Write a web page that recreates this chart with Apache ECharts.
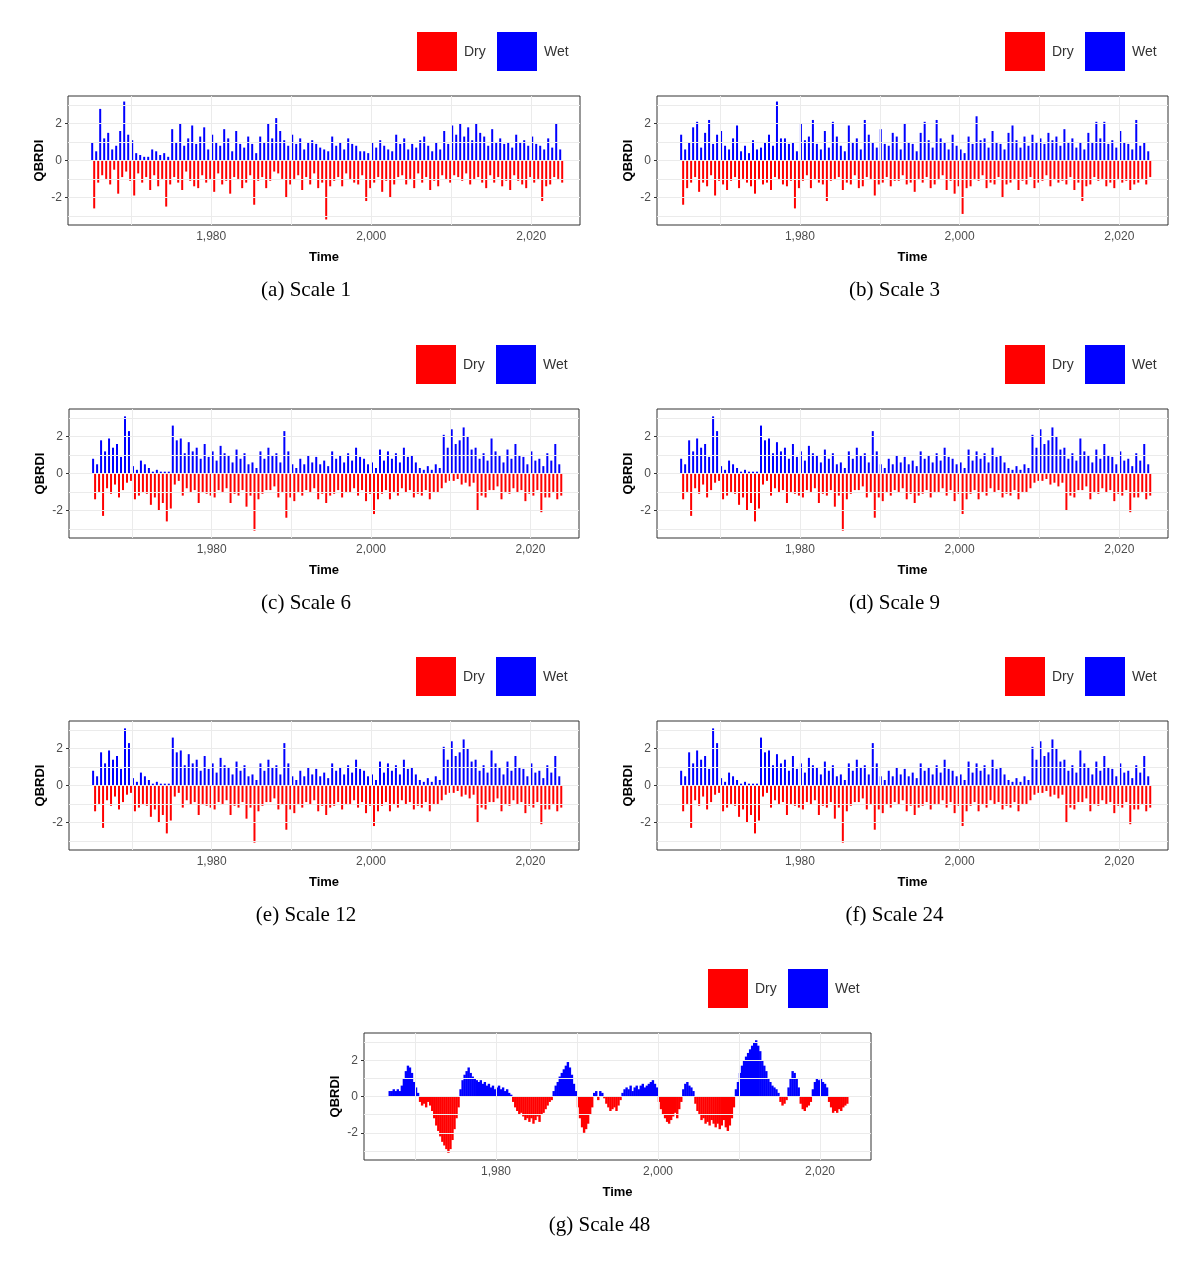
<!DOCTYPE html>
<html lang="en">
<head>
<meta charset="UTF-8">
<title>QBRDI scales</title>
<script src="https://cdn.jsdelivr.net/npm/echarts@6/dist/echarts.min.js"></script>
<style>
  body { margin: 0; background: #fff; }
  #chart { width: 1200px; height: 1268px; }
</style>
</head>
<body>
<div id="chart"></div>
<script>
    // QBRDI by quarter of each year, 1965..2023 (Q1..Q4)
    const scale1 = [
        [1.0,-2.6,0.5,-1.2],[2.8,-0.8,1.2,-1.0],[1.5,-1.3,0.6,-0.5],[0.8,-1.8,1.6,-0.9],[3.2,-0.6,1.4,-1.1],
        [1.1,-1.9,0.4,-0.7],[0.3,-1.2,0.2,-0.9],[0.2,-1.6,0.6,-0.8],[0.5,-1.4,0.3,-1.0],[0.4,-2.5,0.2,-1.3],
        [1.7,-0.9,1.0,-1.2],[2.0,-1.6,0.8,-0.6],[1.2,-1.1,1.9,-1.4],[0.9,-1.5,1.3,-0.8],[1.8,-1.2,0.6,-1.0],
        [1.4,-1.7,1.0,-0.7],[0.8,-1.3,1.7,-1.1],[1.2,-1.8,0.5,-0.9],[1.6,-1.0,0.9,-1.5],[0.7,-1.2,1.3,-0.8],
        [0.9,-2.4,0.4,-1.1],[1.3,-0.9,1.0,-1.5],[2.0,-1.1,1.2,-0.6],[2.3,-0.7,1.6,-1.0],[1.1,-2.0,0.8,-1.3],
        [1.4,-1.0,0.9,-0.8],[1.2,-1.6,0.6,-0.9],[1.0,-1.3,1.1,-0.7],[0.9,-1.5,0.7,-1.2],[0.6,-3.2,0.5,-1.4],
        [1.3,-1.1,0.8,-0.9],[1.0,-1.4,0.6,-0.7],[1.2,-1.0,0.9,-1.2],[0.8,-1.3,0.5,-0.8],[0.5,-2.2,0.4,-1.5],
        [1.0,-1.2,0.7,-0.9],[1.1,-1.7,0.8,-1.1],[0.6,-2.0,0.5,-1.3],[1.4,-0.9,0.9,-0.8],[1.2,-1.3,0.6,-1.0],
        [0.9,-1.5,0.7,-0.7],[1.1,-1.2,1.3,-0.9],[0.8,-1.6,0.5,-1.1],[1.0,-1.4,0.6,-0.8],[1.6,-1.0,0.9,-1.2],
        [1.9,-0.8,1.4,-0.9],[2.0,-1.1,1.3,-0.7],[1.8,-1.3,1.1,-1.0],[2.0,-0.9,1.5,-1.2],[1.3,-1.5,0.8,-0.8],
        [1.7,-1.2,1.0,-0.9],[1.2,-1.4,0.9,-1.1],[1.0,-1.6,0.7,-0.8],[1.4,-1.1,1.0,-1.3],[1.1,-1.5,0.8,-0.9],
        [1.3,-1.2,0.9,-1.0],[0.8,-2.2,0.6,-1.4],[1.2,-1.3,0.7,-0.9],[2.0,-1.0,0.6,-1.2]
    ];
    const scale3 = [
        [1.4,-2.4,0.6,-1.5],[1.0,-1.2,1.8,-0.9],[2.1,-1.7,0.7,-1.2],[1.5,-1.4,2.2,-0.8],[0.9,-1.9,1.4,-1.1],
        [1.6,-1.3,0.8,-1.6],[0.6,-1.1,1.2,-0.9],[1.9,-1.5,0.5,-1.0],[0.8,-1.2,0.4,-1.4],[1.1,-1.8,0.6,-1.0],
        [0.7,-1.3,1.0,-1.2],[1.4,-1.6,0.8,-0.9],[3.2,-1.0,1.2,-1.3],[1.2,-1.4,0.9,-1.1],[1.0,-2.6,0.5,-1.5],
        [2.0,-1.1,1.1,-0.8],[1.3,-1.5,2.2,-1.0],[0.9,-1.2,0.6,-1.3],[1.6,-2.2,0.7,-1.1],[2.1,-1.0,1.3,-0.9],
        [0.8,-1.6,0.5,-1.2],[1.9,-1.3,1.0,-0.8],[1.2,-1.5,0.6,-1.4],[2.2,-0.9,1.4,-1.0],[1.0,-1.9,0.7,-1.3],
        [1.7,-1.2,0.9,-0.9],[0.8,-1.4,1.5,-1.1],[1.3,-1.1,0.6,-0.8],[2.0,-1.3,1.0,-1.2],[0.9,-1.7,0.5,-1.0],
        [1.5,-1.2,2.1,-0.9],[1.1,-1.5,0.7,-1.3],[2.2,-1.0,1.2,-0.8],[1.0,-1.6,0.6,-1.1],[1.4,-1.8,0.8,-1.4],
        [0.6,-2.9,0.4,-1.5],[1.3,-1.4,0.9,-1.0],[2.4,-1.1,1.1,-0.8],[1.2,-1.5,0.7,-1.2],[1.6,-1.3,1.0,-0.9],
        [0.9,-2.0,0.6,-1.3],[1.5,-1.2,1.9,-1.0],[1.1,-1.6,0.7,-1.1],[1.3,-1.3,0.8,-0.9],[1.4,-1.5,1.0,-1.2],
        [1.2,-1.1,0.9,-0.8],[1.5,-1.4,1.1,-1.0],[1.3,-1.2,0.8,-1.1],[1.7,-1.3,1.0,-0.9],[1.2,-1.6,0.7,-1.2],
        [1.0,-2.2,0.6,-1.4],[1.5,-1.3,1.0,-0.9],[2.1,-1.1,1.2,-1.0],[2.1,-1.4,0.9,-1.2],[1.1,-1.5,0.7,-1.0],
        [1.6,-1.2,1.0,-1.1],[0.9,-1.6,0.6,-1.3],[2.2,-1.2,0.8,-1.0],[1.0,-1.3,0.5,-0.9]
    ];
    const scale6 = [
        [0.8,-1.4,0.5,-1.0],[1.8,-2.3,1.2,-0.8],[1.9,-1.1,1.4,-0.6],[1.6,-1.3,0.9,-0.9],[3.1,-0.5,2.3,-0.4],
        [0.4,-1.4,0.2,-1.2],[0.7,-1.0,0.5,-1.1],[0.3,-1.7,0.1,-1.3],[0.2,-2.0,0.1,-1.6],[0.1,-2.6,0.1,-1.9],
        [2.6,-0.6,1.8,-0.4],[1.9,-1.2,1.1,-0.8],[1.7,-1.0,1.2,-0.9],[1.4,-1.6,0.8,-1.0],[1.6,-1.1,0.9,-1.2],
        [1.2,-1.3,0.7,-0.9],[1.5,-1.0,1.1,-0.8],[1.0,-1.6,0.6,-1.1],[1.3,-1.2,0.8,-0.9],[1.1,-1.8,0.5,-1.2],
        [0.6,-3.1,0.3,-1.4],[1.2,-1.1,0.8,-0.9],[1.4,-0.9,1.0,-0.7],[1.1,-1.3,0.6,-1.0],[2.3,-2.4,1.2,-1.3],
        [0.5,-1.5,0.3,-1.0],[0.8,-1.2,0.5,-0.9],[1.0,-1.0,0.6,-0.8],[0.9,-1.4,0.5,-1.1],[0.7,-1.6,0.4,-1.2],
        [1.2,-1.1,0.8,-0.9],[1.0,-1.3,0.6,-1.0],[1.1,-1.0,0.7,-0.8],[1.4,-1.2,0.9,-0.9],[0.8,-1.5,0.5,-1.1],
        [0.6,-2.2,0.3,-1.4],[1.3,-1.1,0.7,-0.9],[1.2,-1.4,0.8,-1.0],[1.1,-1.2,0.6,-0.8],[1.4,-1.0,0.9,-0.9],
        [1.0,-1.3,0.6,-1.1],[0.3,-1.2,0.2,-0.9],[0.4,-1.4,0.2,-1.0],[0.5,-1.0,0.3,-0.8],[2.1,-0.5,1.4,-0.4],
        [2.4,-0.4,1.6,-0.3],[1.8,-0.6,2.5,-0.5],[2.0,-0.7,1.3,-0.5],[1.4,-2.0,0.8,-1.2],[1.1,-1.3,0.7,-0.9],
        [1.9,-0.9,1.2,-0.7],[1.0,-1.4,0.6,-1.0],[1.3,-1.1,0.8,-0.8],[1.6,-1.0,1.0,-0.9],[0.9,-1.5,0.5,-1.1],
        [1.2,-1.2,0.7,-0.9],[0.8,-2.1,0.4,-1.3],[1.1,-1.3,0.7,-1.0],[1.6,-1.4,0.5,-1.2]
    ];
    const scale48 = [
        [null,null,null,null],[null,null,null,0.3],[0.3,0.4,0.3,0.4],[0.3,0.6,1.0,1.4],[1.7,1.6,1.3,0.8],
        [0.5,0.2,-0.3,-0.5],[-0.4,-0.6,-0.3,-0.5],[-0.8,-1.2,-1.6,-1.9],[-2.2,-2.5,-2.7,-2.9],[-3.1,-2.9,-2.4,-1.8],
        [-1.2,-0.6,0.4,0.9],[1.2,1.4,1.6,1.3],[1.1,1.0,0.9,0.8],[0.9,0.7,0.8,0.6],[0.7,0.5,0.6,0.4],
        [0.5,0.6,0.4,0.5],[0.3,0.4,0.2,0.1],[-0.3,-0.6,-0.8,-1.0],[-0.9,-1.1,-1.3,-1.2],[-1.4,-1.2,-1.5,-1.3],
        [-1.1,-1.4,-1.0,-0.9],[-0.7,-0.5,-0.3,-0.2],[0.3,0.6,0.8,1.1],[1.3,1.5,1.7,1.9],[1.6,1.2,0.7,0.3],
        [-0.6,-1.2,-1.7,-2.0],[-1.8,-1.5,-1.0,-0.6],[0.2,0.3,-0.2,0.3],[0.2,-0.1,-0.4,-0.6],[-0.8,-0.7,-0.6,-0.8],
        [-0.5,-0.2,0.2,0.4],[0.5,0.4,0.6,0.3],[0.5,0.6,0.4,0.6],[0.7,0.5,0.6,0.7],[0.8,0.9,0.7,0.5],
        [-0.3,-0.7,-1.0,-1.2],[-1.4,-1.5,-1.3,-1.1],[-0.9,-1.2,-0.7,-0.3],[0.4,0.7,0.8,0.6],[0.5,0.3,-0.4,-0.8],
        [-1.0,-1.3,-1.2,-1.5],[-1.4,-1.6,-1.3,-1.5],[-1.7,-1.5,-1.8,-1.6],[-1.3,-1.7,-1.9,-1.6],[-1.2,-0.6,0.4,0.8],
        [1.3,1.7,2.0,2.2],[2.4,2.6,2.8,3.0],[3.1,2.8,2.5,2.0],[1.7,1.4,1.0,0.8],[0.6,0.5,0.4,0.2],
        [-0.3,-0.5,-0.4,-0.2],[0.5,1.0,1.4,1.3],[1.0,0.5,-0.4,-0.7],[-0.8,-0.6,-0.5,-0.3],[0.4,0.8,1.0,0.9],
        [1.0,0.8,0.7,0.5],[-0.3,-0.6,-0.9,-0.8],[-0.9,-0.7,-0.8,-0.6],[-0.5,-0.4,null,null]
    ];

    const panels = [
        { data: scale1, cap: '(a) Scale 1', left: 68, top: 96, width: 512, height: 129, min: 1962.1, max: 2026.1, bw: 2 },
        { data: scale3, cap: '(b) Scale 3', left: 657, top: 96, width: 511, height: 129, min: 1962.1, max: 2026.1, bw: 2 },
        { data: scale6, cap: '(c) Scale 6', left: 69, top: 409, width: 510, height: 129, min: 1962.1, max: 2026.1, bw: 2 },
        { data: scale6, cap: '(d) Scale 9', left: 657, top: 409, width: 511, height: 129, min: 1962.1, max: 2026.1, bw: 2 },
        { data: scale6, cap: '(e) Scale 12', left: 69, top: 721, width: 510, height: 129, min: 1962.1, max: 2026.1, bw: 2 },
        { data: scale6, cap: '(f) Scale 24', left: 657, top: 721, width: 511, height: 129, min: 1962.1, max: 2026.1, bw: 2 },
        { data: scale48, cap: '(g) Scale 48', left: 364, top: 1033, width: 507, height: 127, min: 1963.7, max: 2026.3, bw: 2.4 }
    ];

    const grid = [], xAxis = [], yAxis = [], series = [], graphic = [];
    const gridCol = '#ebebeb';

    panels.forEach((p, i) => {
        grid.push({ left: p.left, top: p.top, width: p.width, height: p.height, show: true,
            borderColor: '#333', borderWidth: 1, backgroundColor: '#fff' });
        xAxis.push({ gridIndex: i, type: 'value', min: p.min, max: p.max,
            name: 'Time', nameLocation: 'middle', nameGap: 26,
            nameTextStyle: { fontWeight: 'bold', fontSize: 13, color: '#000', fontFamily: 'Liberation Sans' },
            axisLine: { show: false }, splitLine: { show: false },
            axisTick: { show: true, customValues: [1980, 2000, 2020], length: 3, lineStyle: { color: '#333' } },
            axisLabel: { customValues: [1980, 2000, 2020], color: '#4d4d4d', fontSize: 12, fontFamily: 'Liberation Sans', margin: 6 } });
        yAxis.push({ gridIndex: i, type: 'value', min: -3.5, max: 3.5,
            name: 'QBRDI', nameLocation: 'middle', nameGap: 22,
            nameTextStyle: { fontWeight: 'bold', fontSize: 13, color: '#000', fontFamily: 'Liberation Sans' },
            axisLine: { show: false }, splitLine: { show: false },
            axisTick: { show: true, customValues: [-2, 0, 2], length: 3, lineStyle: { color: '#333' } },
            axisLabel: { customValues: [-2, 0, 2], color: '#4d4d4d', fontSize: 12, fontFamily: 'Liberation Sans', margin: 6 } });

        // background grid lines
        const lines = [];
        for (let y = 1970; y <= 2020; y += 10) lines.push({ xAxis: y });
        for (let v = -3; v <= 3; v++) lines.push({ yAxis: v });
        series.push({ type: 'line', xAxisIndex: i, yAxisIndex: i, data: [], z: 0, silent: true,
            markLine: { silent: true, symbol: 'none', label: { show: false }, animation: false,
                lineStyle: { color: gridCol, width: 1, type: 'solid' }, data: lines } });

        const bars = [];
        p.data.forEach((row, k) => {
            row.forEach((v, q) => {
                if (v === null) return;
                bars.push({ value: [1965 + k + q * 0.25 + 0.125, v],
                    itemStyle: { color: v < 0 ? '#FF0000' : '#0000FF' } });
            });
        });
        series.push({ type: 'bar', xAxisIndex: i, yAxisIndex: i, data: bars, barWidth: p.bw, z: 2, animation: false });

        // legend boxes and caption
        const lx = p.left + p.width - 163, ly = p.top - 64;
        graphic.push(
            { type: 'rect', left: lx, top: ly, shape: { width: 40, height: 39 }, style: { fill: '#FF0000' } },
            { type: 'text', left: lx + 47, top: ly + 13, style: { text: 'Dry', font: '14px Liberation Sans', fill: '#333' } },
            { type: 'rect', left: lx + 80, top: ly, shape: { width: 40, height: 39 }, style: { fill: '#0000FF' } },
            { type: 'text', left: lx + 127, top: ly + 13, style: { text: 'Wet', font: '14px Liberation Sans', fill: '#333' } },
            { type: 'text', x: p.left + p.width / 2 - 18, y: p.top + p.height + 55,
              style: { text: p.cap, font: '21px Liberation Serif', fill: '#000', align: 'center' } }
        );
    });

    const chart = echarts.init(document.getElementById('chart'));
    chart.setOption({ animation: false, grid, xAxis, yAxis, series, graphic });
</script>
</body>
</html>
